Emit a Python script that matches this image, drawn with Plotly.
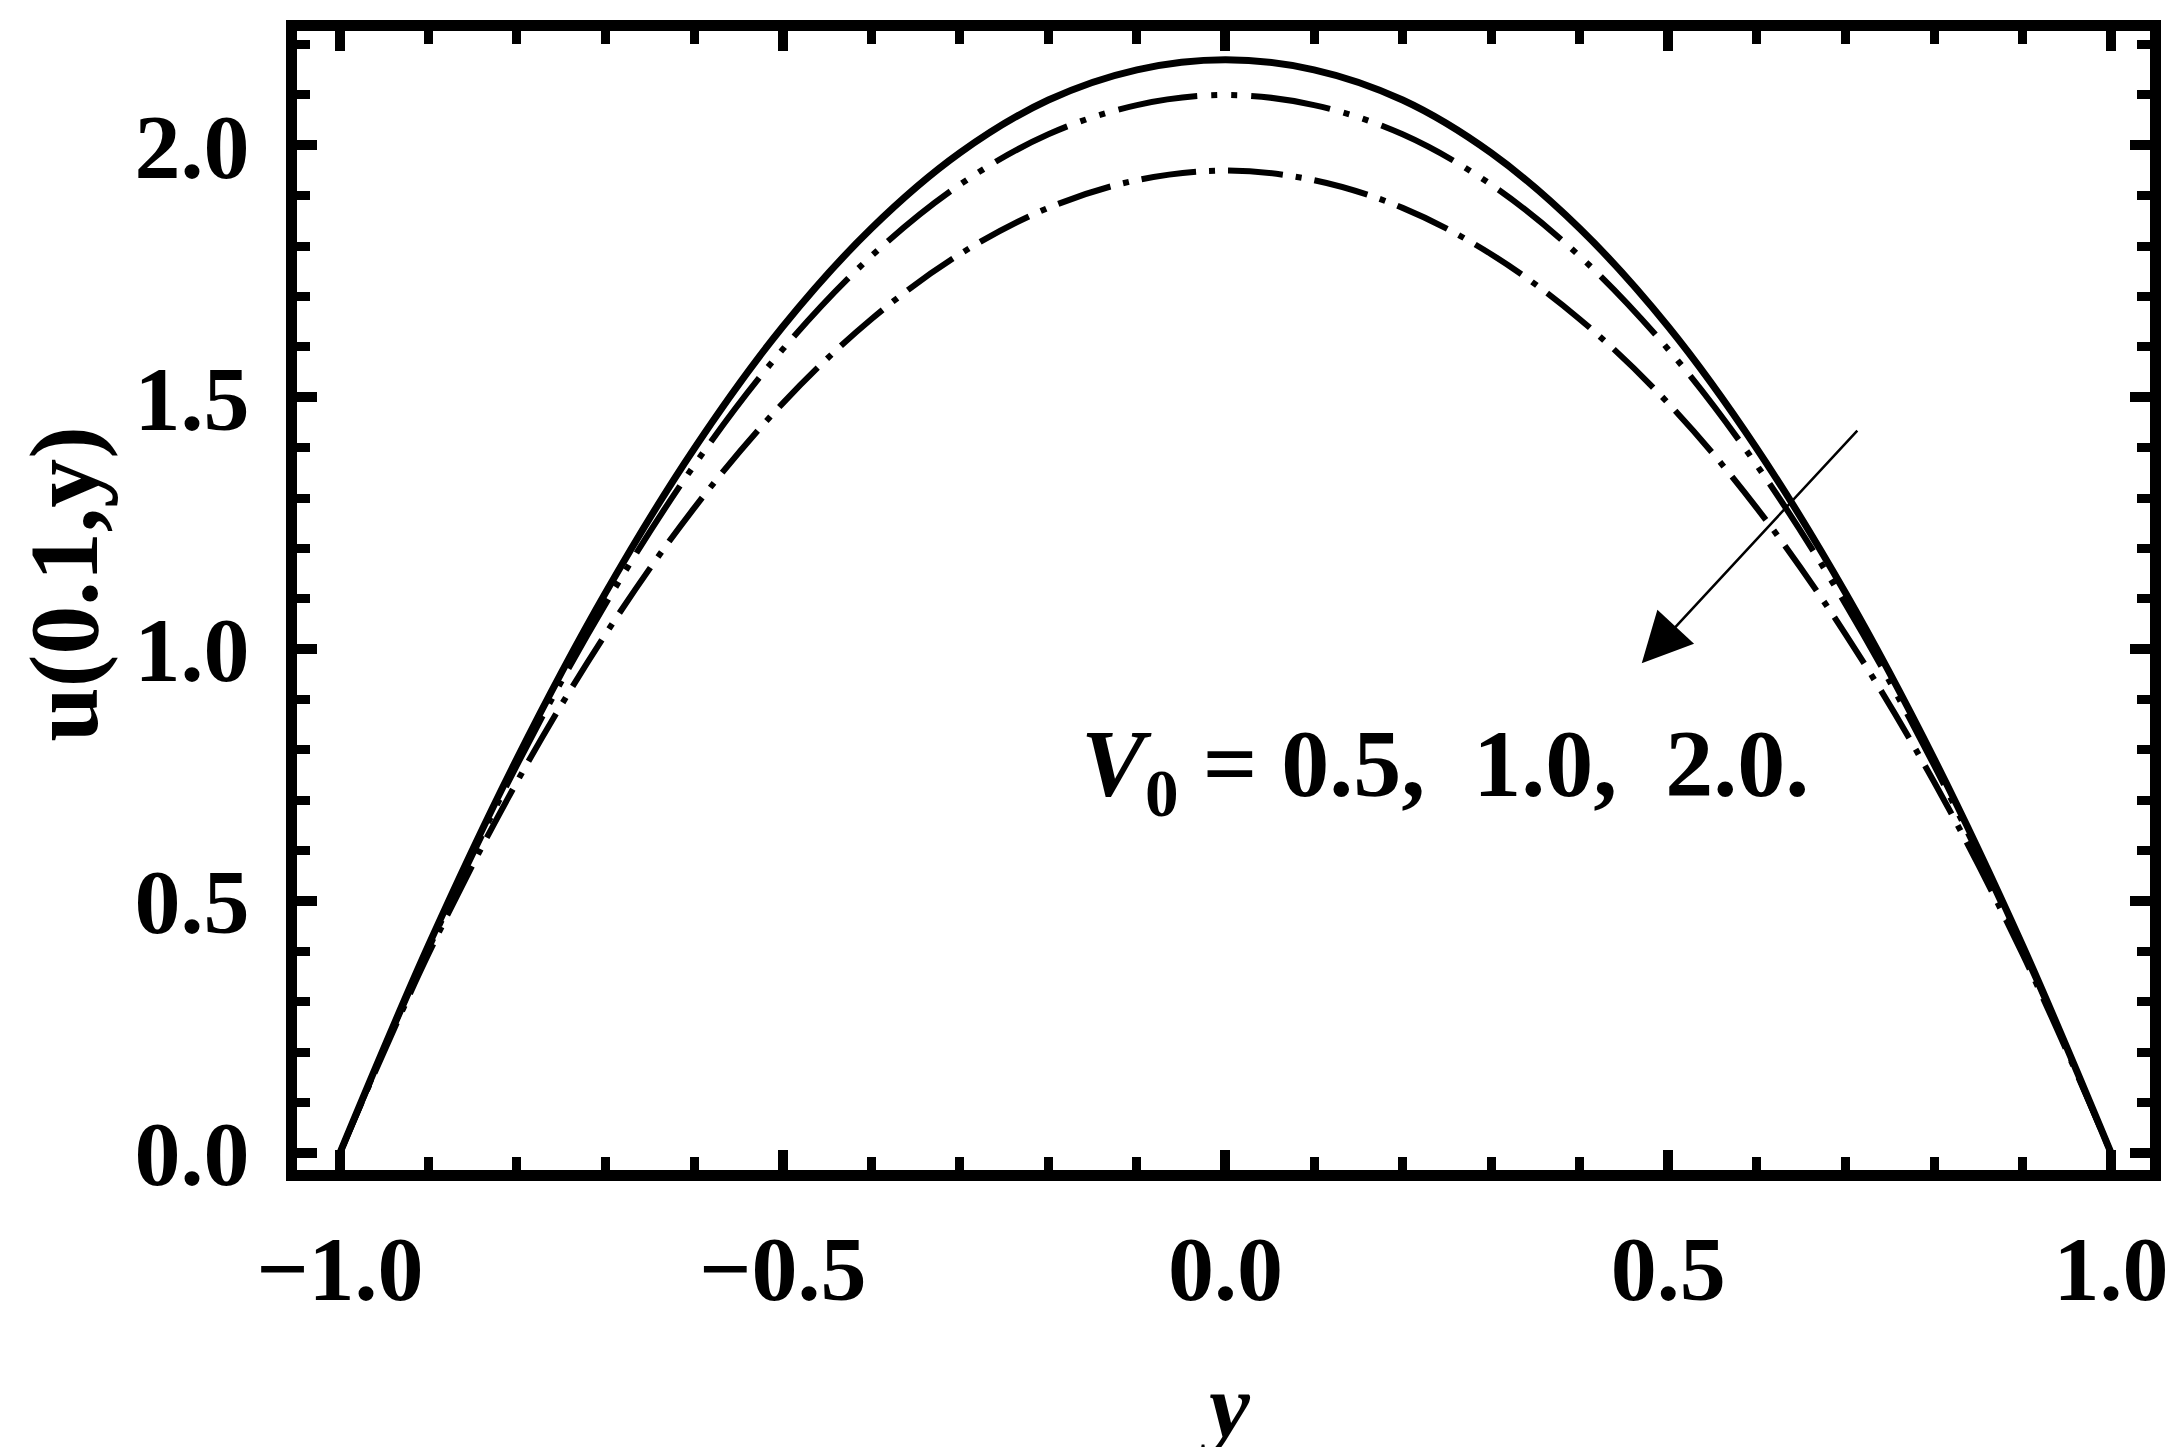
import plotly.graph_objects as go

# transverse coordinate y
y_pos = [-1.0, -0.9, -0.8, -0.7, -0.6, -0.5, -0.4, -0.3, -0.2, -0.1, 0.0,
         0.1, 0.2, 0.3, 0.4, 0.5, 0.6, 0.7, 0.8, 0.9, 1.0]

# u(0.1, y) for V0 = 0.5 (solid)
u_v05 = [0.0, 0.412, 0.783, 1.112, 1.398, 1.640, 1.835, 1.985, 2.090, 2.150, 2.170,
         2.150, 2.090, 1.985, 1.835, 1.640, 1.398, 1.112, 0.783, 0.412, 0.0]
# V0 = 1.0 (dash dot dot)
u_v10 = [0.0, 0.405, 0.770, 1.090, 1.365, 1.595, 1.780, 1.922, 2.022, 2.080, 2.100,
         2.080, 2.022, 1.922, 1.780, 1.595, 1.365, 1.090, 0.770, 0.405, 0.0]
# V0 = 2.0 (dash dot)
u_v20 = [0.0, 0.395, 0.737, 1.030, 1.280, 1.488, 1.655, 1.784, 1.876, 1.931, 1.950,
         1.931, 1.876, 1.784, 1.655, 1.488, 1.280, 1.030, 0.737, 0.395, 0.0]

x_ticks = [-1.0, -0.5, 0.0, 0.5, 1.0]
y_ticks = [0.0, 0.5, 1.0, 1.5, 2.0]

FONT = "Liberation Serif"
FS = 92

fig = go.Figure()
fig.add_trace(go.Scatter(x=y_pos, y=u_v05, mode='lines', line_shape='spline',
                         line=dict(color='black', width=7), name='V0 = 0.5'))
fig.add_trace(go.Scatter(x=y_pos, y=u_v10, mode='lines', line_shape='spline',
                         line=dict(color='black', width=6,
                                   dash='80px,14px,6px,14px,6px,14px'),
                         name='V0 = 1.0'))
fig.add_trace(go.Scatter(x=y_pos, y=u_v20, mode='lines', line_shape='spline',
                         line=dict(color='black', width=6,
                                   dash='55px,13px,6px,13px'),
                         name='V0 = 2.0'))

axis_common = dict(
    showline=True, linewidth=11, linecolor='black', mirror='allticks',
    ticks='inside', ticklen=20, tickwidth=10, tickcolor='black',
    showgrid=False, zeroline=False, tickformat='.1f',
    tickfont=dict(family=FONT, size=FS, color='black', weight='bold'),
    minor=dict(ticks='inside', ticklen=13, tickwidth=9, tickcolor='black',
               dtick=0.1, tick0=0, showgrid=False),
)

fig.update_layout(
    width=2173, height=1447,
    margin=dict(l=289, r=25, t=18, b=285),
    paper_bgcolor='white', plot_bgcolor='white',
    showlegend=False,
    xaxis=dict(range=[-1.0484, 1.0439], tickvals=x_ticks, ticklabelstandoff=9,
               **axis_common),
    yaxis=dict(range=[-0.0336, 2.227], tickvals=y_ticks, ticklabelstandoff=18,
               **axis_common),
)

# axis titles
fig.add_annotation(
    x=0.5008, y=-0.207, xref='paper', yref='paper', xanchor='center', yanchor='middle',
    text='<i>y</i>', showarrow=False,
    font=dict(family=FONT, size=FS, color='black', weight='bold'),
)
fig.add_annotation(
    x=-0.1255, y=0.515, xref='paper', yref='paper', xanchor='center', yanchor='middle',
    text='u(0.1,y)', textangle=-90, showarrow=False,
    font=dict(family=FONT, size=98, color='black', weight='bold'),
)

fig.add_annotation(
    x=-0.165, y=0.76, xref='x', yref='y', xanchor='left', yanchor='middle',
    text='<i>V</i><sub>0</sub> = 0.5,\u00a0 1.0,\u00a0 2.0.', showarrow=False,
    font=dict(family=FONT, size=96, color='black', weight='bold'),
)

# arrow showing increasing V0
fig.add_annotation(
    x=0.470, y=0.972, ax=0.715, ay=1.437, xref='x', yref='y', axref='x', ayref='y',
    text='', showarrow=True, arrowhead=2, arrowsize=4, arrowwidth=2.5,
    arrowcolor='black',
)

fig.write_html("out.html")
